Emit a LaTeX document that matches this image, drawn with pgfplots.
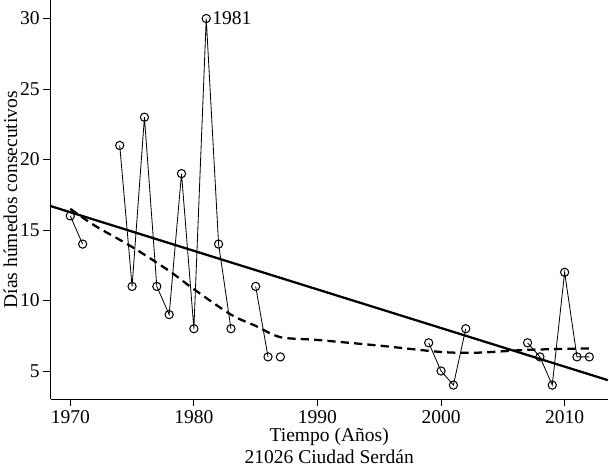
\documentclass[border=0pt]{standalone}
\usepackage{pgfplots}
\pgfplotsset{compat=1.18}
\usepackage{fontspec}
\setmainfont{Liberation Serif}
\begin{document}
\begin{tikzpicture}
\begin{axis}[
  scale only axis, width=542pt, height=388pt,
  xmin=1968.4, xmax=2013.5, ymin=3.0, ymax=31.3,
  axis x line*=bottom, axis y line*=left,
  xtick={1970,1980,1990,2000,2010}, ytick={5,10,15,20,25,30},
  x tick label style={/pgf/number format/1000 sep={}},
  /pgf/number format/assume math mode=true,
  tick label style={font=\fontsize{19}{21}\selectfont},
  label style={font=\fontsize{19}{21}\selectfont},
  xlabel={Tiempo (Años)\\21026 Ciudad Serdán}, xlabel style={align=center, yshift=2pt},
  ylabel={Días húmedos consecutivos}, ylabel style={yshift=-4pt},
  tick align=outside, major tick length=7pt,
  every axis line/.style={line width=0.9pt}, every tick/.style={line width=0.9pt, black},
  clip=false,
]
\addplot[thick, black] coordinates {(1970,16)(1971,14)};
\addplot[thick, black] coordinates {(1974,21)(1975,11)(1976,23)(1977,11)(1978,9)(1979,19)(1980,8)(1981,30)(1982,14)(1983,8)};
\addplot[thick, black] coordinates {(1985,11)(1986,6)};
\addplot[thick, black] coordinates {(1999,7)(2000,5)(2001,4)(2002,8)};
\addplot[thick, black] coordinates {(2007,7)(2008,6)(2009,4)(2010,12)(2011,6)(2012,6)};
\addplot[line width=2.2pt, black] coordinates {(1968.4,16.7)(2013.5,4.35)};
\addplot[line width=2.2pt, black, dash pattern=on 8pt off 5pt, smooth] coordinates {(1970,16.5)(1972,15.3)(1975,13.8)(1978,12.1)(1980,10.8)(1983,9.0)(1985,8.2)(1987,7.4)(1990,7.2)(1995,6.8)(2000,6.35)(2003,6.3)(2007,6.5)(2012,6.6)};
\addplot[only marks, mark=o, mark size=4pt, mark options={fill=white, line width=1pt}] coordinates {
(1970,16)(1971,14)(1974,21)(1975,11)(1976,23)(1977,11)(1978,9)(1979,19)(1980,8)(1981,30)(1982,14)(1983,8)(1985,11)(1986,6)(1987,6)(1999,7)(2000,5)(2001,4)(2002,8)(2007,7)(2008,6)(2009,4)(2010,12)(2011,6)(2012,6)};
\node[anchor=west, font=\fontsize{19}{21}\selectfont, inner sep=1pt] at (axis cs:1981.4,30) {1981};
\end{axis}
\end{tikzpicture}
\end{document}
